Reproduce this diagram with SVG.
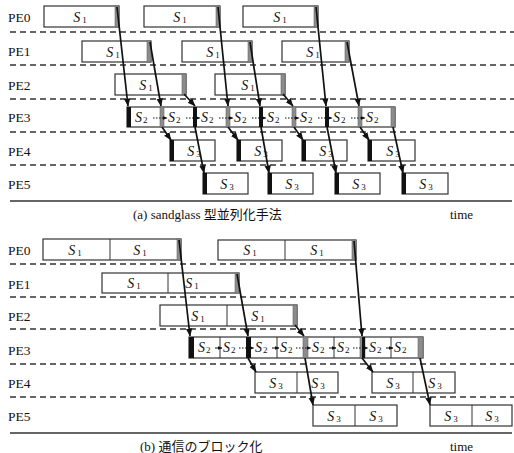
<svg xmlns="http://www.w3.org/2000/svg" width="514" height="453" viewBox="0 0 514 453">
<defs>
<marker id="ah" markerWidth="8" markerHeight="8" refX="7.5" refY="4" orient="auto" markerUnits="userSpaceOnUse"><path d="M0,0.8 L8,4 L0,7.2 z" fill="#111"/></marker>
<marker id="sh" markerWidth="5" markerHeight="5" refX="4.5" refY="2.5" orient="auto" markerUnits="userSpaceOnUse"><path d="M0,0.5 L5,2.5 L0,4.5 z" fill="#111"/></marker>
</defs>
<style>
text{font-family:"Liberation Serif","DejaVu Serif","Noto Sans CJK JP",serif}
.lbl{font-size:13.5px;fill:#111}
.s{font-style:italic;font-size:14px;fill:#111}
.sb{font-size:9px;font-style:normal}
.box{fill:#fff;stroke:#333;stroke-width:1.2}
.gs{fill:#8c8c8c;stroke:#666;stroke-width:0.6}
.bk{fill:#111}
.dash{stroke:#333;stroke-width:1.4;stroke-dasharray:6,4;fill:none}
.solid{stroke:#333;stroke-width:1.6}
.div{stroke:#333;stroke-width:1}
.arr{stroke:#111;stroke-width:1.7;fill:none;marker-end:url(#ah)}
.dar{stroke:#111;stroke-width:1.1;stroke-dasharray:1.5,1.5;fill:none;marker-end:url(#sh)}
.sar{stroke:#111;stroke-width:1;fill:none;marker-end:url(#sh)}
.cap{font-size:13px;fill:#111}
</style>

<!-- ===== (a) ===== -->
<g id="grid-a">
<line class="dash" x1="10" y1="32" x2="514" y2="32"/>
<line class="dash" x1="10" y1="65" x2="514" y2="65"/>
<line class="dash" x1="10" y1="99" x2="514" y2="99"/>
<line class="dash" x1="10" y1="132" x2="514" y2="132"/>
<line class="dash" x1="10" y1="165" x2="514" y2="165"/>
<line class="solid" x1="10" y1="201" x2="512" y2="201"/>
</g>
<g id="labels-a">
<text class="lbl" x="8" y="22">PE0</text>
<text class="lbl" x="8" y="56">PE1</text>
<text class="lbl" x="8" y="90">PE2</text>
<text class="lbl" x="8" y="122">PE3</text>
<text class="lbl" x="8" y="156">PE4</text>
<text class="lbl" x="8" y="189">PE5</text>
</g>

<g id="a-pe0-1"><rect class="box" x="44" y="6" width="75" height="21"/><rect class="gs" x="115" y="6" width="4" height="21"/><text class="s" x="80" y="22" text-anchor="middle">S<tspan class="sb" dx="2" dy="1">1</tspan></text></g>
<g id="a-pe0-2"><rect class="box" x="144" y="6" width="76" height="21"/><rect class="gs" x="216" y="6" width="4" height="21"/><text class="s" x="180" y="22" text-anchor="middle">S<tspan class="sb" dx="2" dy="1">1</tspan></text></g>
<g id="a-pe0-3"><rect class="box" x="243" y="6" width="75" height="21"/><rect class="gs" x="314" y="6" width="4" height="21"/><text class="s" x="280" y="22" text-anchor="middle">S<tspan class="sb" dx="2" dy="1">1</tspan></text></g>

<g id="a-pe1-1"><rect class="box" x="82" y="41" width="69" height="21"/><rect class="gs" x="147" y="41" width="4" height="21"/><text class="s" x="113" y="57" text-anchor="middle">S<tspan class="sb" dx="2" dy="1">1</tspan></text></g>
<g id="a-pe1-2"><rect class="box" x="182" y="41" width="70" height="21"/><rect class="gs" x="248" y="41" width="4" height="21"/><text class="s" x="213" y="57" text-anchor="middle">S<tspan class="sb" dx="2" dy="1">1</tspan></text></g>
<g id="a-pe1-3"><rect class="box" x="282" y="41" width="67" height="21"/><rect class="gs" x="345" y="41" width="4" height="21"/><text class="s" x="313" y="57" text-anchor="middle">S<tspan class="sb" dx="2" dy="1">1</tspan></text></g>

<g id="a-pe2-1"><rect class="box" x="115" y="74" width="71" height="21"/><rect class="gs" x="182" y="74" width="4" height="21"/><text class="s" x="146" y="90" text-anchor="middle">S<tspan class="sb" dx="2" dy="1">1</tspan></text></g>
<g id="a-pe2-2"><rect class="box" x="215" y="74" width="70" height="21"/><rect class="gs" x="281" y="74" width="4" height="21"/><text class="s" x="248" y="90" text-anchor="middle">S<tspan class="sb" dx="2" dy="1">1</tspan></text></g>

<g id="a-pe3">
<rect class="box" x="127" y="107" width="268" height="20"/>
<rect class="bk" x="127" y="107" width="4" height="20"/>
<rect class="gs" x="160" y="107" width="4" height="20"/>
<rect class="bk" x="193" y="107" width="4" height="20"/>
<rect class="gs" x="226" y="107" width="4" height="20"/>
<rect class="bk" x="259" y="107" width="4" height="20"/>
<rect class="gs" x="292" y="107" width="4" height="20"/>
<rect class="bk" x="325" y="107" width="4" height="20"/>
<rect class="gs" x="358" y="107" width="4" height="20"/>
<rect class="gs" x="391" y="107" width="4" height="20"/>
<text class="s" x="135" y="122">S<tspan class="sb" dx="1" dy="1">2</tspan></text>
<text class="s" x="168" y="122">S<tspan class="sb" dx="1" dy="1">2</tspan></text>
<text class="s" x="201" y="122">S<tspan class="sb" dx="1" dy="1">2</tspan></text>
<text class="s" x="234" y="122">S<tspan class="sb" dx="1" dy="1">2</tspan></text>
<text class="s" x="267" y="122">S<tspan class="sb" dx="1" dy="1">2</tspan></text>
<text class="s" x="300" y="122">S<tspan class="sb" dx="1" dy="1">2</tspan></text>
<text class="s" x="333" y="122">S<tspan class="sb" dx="1" dy="1">2</tspan></text>
<text class="s" x="366" y="122">S<tspan class="sb" dx="1" dy="1">2</tspan></text>
<line class="dar" x1="153" y1="118" x2="167" y2="118"/>
<line class="dar" x1="186" y1="118" x2="200" y2="118"/>
<line class="dar" x1="219" y1="118" x2="233" y2="118"/>
<line class="dar" x1="252" y1="118" x2="266" y2="118"/>
<line class="dar" x1="285" y1="118" x2="299" y2="118"/>
<line class="dar" x1="318" y1="118" x2="332" y2="118"/>
<line class="dar" x1="351" y1="118" x2="365" y2="118"/>
</g>

<g id="a-pe4-1"><rect class="box" x="170" y="140" width="45" height="21"/><rect class="bk" x="170" y="140" width="4" height="21"/><text class="s" x="194" y="156" text-anchor="middle">S<tspan class="sb" dx="2" dy="1">3</tspan></text></g>
<g id="a-pe4-2"><rect class="box" x="237" y="140" width="45" height="21"/><rect class="bk" x="237" y="140" width="4" height="21"/><text class="s" x="261" y="156" text-anchor="middle">S<tspan class="sb" dx="2" dy="1">3</tspan></text></g>
<g id="a-pe4-3"><rect class="box" x="302" y="140" width="45" height="21"/><rect class="bk" x="302" y="140" width="4" height="21"/><text class="s" x="326" y="156" text-anchor="middle">S<tspan class="sb" dx="2" dy="1">3</tspan></text></g>
<g id="a-pe4-4"><rect class="box" x="368" y="140" width="47" height="21"/><rect class="bk" x="368" y="140" width="4" height="21"/><text class="s" x="393" y="156" text-anchor="middle">S<tspan class="sb" dx="2" dy="1">3</tspan></text></g>

<g id="a-pe5-1"><rect class="box" x="203" y="173" width="45" height="21"/><rect class="bk" x="203" y="173" width="4" height="21"/><text class="s" x="227" y="189" text-anchor="middle">S<tspan class="sb" dx="2" dy="1">3</tspan></text></g>
<g id="a-pe5-2"><rect class="box" x="268" y="173" width="45" height="21"/><rect class="bk" x="268" y="173" width="4" height="21"/><text class="s" x="292" y="189" text-anchor="middle">S<tspan class="sb" dx="2" dy="1">3</tspan></text></g>
<g id="a-pe5-3"><rect class="box" x="335" y="173" width="45" height="21"/><rect class="bk" x="335" y="173" width="4" height="21"/><text class="s" x="359" y="189" text-anchor="middle">S<tspan class="sb" dx="2" dy="1">3</tspan></text></g>
<g id="a-pe5-4"><rect class="box" x="402" y="173" width="46" height="21"/><rect class="bk" x="402" y="173" width="4" height="21"/><text class="s" x="426" y="189" text-anchor="middle">S<tspan class="sb" dx="2" dy="1">3</tspan></text></g>

<g id="connectors-a">
<line class="arr" x1="117" y1="7" x2="128" y2="106"/>
<line class="arr" x1="150" y1="42" x2="161" y2="106"/>
<line class="arr" x1="184" y1="94" x2="195" y2="106"/>
<line class="arr" x1="218" y1="7" x2="228" y2="106"/>
<line class="arr" x1="250" y1="42" x2="260" y2="106"/>
<line class="arr" x1="283" y1="94" x2="293" y2="106"/>
<line class="arr" x1="316" y1="7" x2="326" y2="106"/>
<line class="arr" x1="347" y1="42" x2="359" y2="106"/>
<line class="arr" x1="162" y1="127" x2="171" y2="140"/>
<line class="arr" x1="195" y1="127" x2="204" y2="173"/>
<line class="arr" x1="228" y1="127" x2="238" y2="140"/>
<line class="arr" x1="261" y1="127" x2="269" y2="173"/>
<line class="arr" x1="294" y1="127" x2="303" y2="140"/>
<line class="arr" x1="327" y1="127" x2="336" y2="173"/>
<line class="arr" x1="360" y1="127" x2="369" y2="140"/>
<line class="arr" x1="393" y1="127" x2="403" y2="173"/>
</g>
<text class="cap" x="133" y="219">(a)  sandglass 型並列化手法</text>
<text class="cap" x="450" y="219">time</text>

<!-- ===== (b) ===== -->
<g id="grid-b">
<line class="dash" x1="10" y1="264" x2="514" y2="264"/>
<line class="dash" x1="10" y1="297" x2="514" y2="297"/>
<line class="dash" x1="10" y1="329" x2="514" y2="329"/>
<line class="dash" x1="10" y1="364" x2="514" y2="364"/>
<line class="dash" x1="10" y1="397" x2="514" y2="397"/>
<line class="solid" x1="10" y1="433" x2="512" y2="433"/>
</g>
<g id="labels-b">
<text class="lbl" x="8" y="255">PE0</text>
<text class="lbl" x="8" y="289">PE1</text>
<text class="lbl" x="8" y="321">PE2</text>
<text class="lbl" x="8" y="355">PE3</text>
<text class="lbl" x="8" y="388">PE4</text>
<text class="lbl" x="8" y="421">PE5</text>
</g>

<g id="b-pe0-1"><rect class="box" x="43" y="239" width="138" height="21"/><line class="div" x1="110" y1="239" x2="110" y2="260"/><rect class="gs" x="177" y="239" width="4" height="21"/><text class="s" x="75" y="255" text-anchor="middle">S<tspan class="sb" dx="2" dy="1">1</tspan></text><text class="s" x="140" y="255" text-anchor="middle">S<tspan class="sb" dx="2" dy="1">1</tspan></text></g>
<g id="b-pe0-2"><rect class="box" x="218" y="240" width="138" height="20"/><line class="div" x1="285" y1="240" x2="285" y2="260"/><rect class="gs" x="352" y="240" width="4" height="20"/><text class="s" x="250" y="255" text-anchor="middle">S<tspan class="sb" dx="2" dy="1">1</tspan></text><text class="s" x="317" y="255" text-anchor="middle">S<tspan class="sb" dx="2" dy="1">1</tspan></text></g>
<g id="b-pe1-1"><rect class="box" x="102" y="273" width="137" height="20"/><line class="div" x1="168" y1="273" x2="168" y2="293"/><rect class="gs" x="235" y="273" width="4" height="20"/><text class="s" x="134" y="288" text-anchor="middle">S<tspan class="sb" dx="2" dy="1">1</tspan></text><text class="s" x="192" y="288" text-anchor="middle">S<tspan class="sb" dx="2" dy="1">1</tspan></text></g>
<g id="b-pe2-1"><rect class="box" x="160" y="305" width="137" height="21"/><line class="div" x1="227" y1="305" x2="227" y2="326"/><rect class="gs" x="293" y="305" width="4" height="21"/><text class="s" x="198" y="321" text-anchor="middle">S<tspan class="sb" dx="2" dy="1">1</tspan></text><text class="s" x="258" y="321" text-anchor="middle">S<tspan class="sb" dx="2" dy="1">1</tspan></text></g>

<g id="b-pe3">
<rect class="box" x="189" y="337" width="234" height="21"/>
<rect class="bk" x="189" y="337" width="5" height="21"/>
<rect class="bk" x="246" y="337" width="5" height="21"/>
<rect class="gs" x="303" y="337" width="5" height="21"/>
<rect class="gs" x="360" y="337" width="5" height="21"/>
<rect class="bk" x="362" y="337" width="3" height="21"/>
<rect class="gs" x="418" y="337" width="5" height="21"/>
<line class="div" x1="220" y1="337" x2="220" y2="358"/>
<line class="div" x1="277" y1="337" x2="277" y2="358"/>
<line class="div" x1="334" y1="337" x2="334" y2="358"/>
<line class="div" x1="391" y1="337" x2="391" y2="358"/>
<text class="s" x="198" y="352">S<tspan class="sb" dx="1" dy="1">2</tspan></text>
<text class="s" x="223" y="352">S<tspan class="sb" dx="1" dy="1">2</tspan></text>
<text class="s" x="255" y="352">S<tspan class="sb" dx="1" dy="1">2</tspan></text>
<text class="s" x="280" y="352">S<tspan class="sb" dx="1" dy="1">2</tspan></text>
<text class="s" x="312" y="352">S<tspan class="sb" dx="1" dy="1">2</tspan></text>
<text class="s" x="337" y="352">S<tspan class="sb" dx="1" dy="1">2</tspan></text>
<text class="s" x="369" y="352">S<tspan class="sb" dx="1" dy="1">2</tspan></text>
<text class="s" x="394" y="352">S<tspan class="sb" dx="1" dy="1">2</tspan></text>
<line class="sar" x1="215" y1="348" x2="222" y2="348"/>
<line class="sar" x1="272" y1="348" x2="279" y2="348"/>
<line class="sar" x1="329" y1="348" x2="336" y2="348"/>
<line class="sar" x1="386" y1="348" x2="393" y2="348"/>
<line class="dar" x1="239" y1="348" x2="254" y2="348"/>
<line class="dar" x1="296" y1="348" x2="311" y2="348"/>
<line class="dar" x1="353" y1="348" x2="368" y2="348"/>
</g>

<g id="b-pe4-1"><rect class="box" x="255" y="372" width="83" height="21"/><line class="div" x1="297" y1="372" x2="297" y2="393"/><text class="s" x="276" y="388" text-anchor="middle">S<tspan class="sb" dx="2" dy="1">3</tspan></text><text class="s" x="318" y="388" text-anchor="middle">S<tspan class="sb" dx="2" dy="1">3</tspan></text></g>
<g id="b-pe4-2"><rect class="box" x="372" y="372" width="83" height="21"/><line class="div" x1="413" y1="372" x2="413" y2="393"/><text class="s" x="393" y="388" text-anchor="middle">S<tspan class="sb" dx="2" dy="1">3</tspan></text><text class="s" x="435" y="388" text-anchor="middle">S<tspan class="sb" dx="2" dy="1">3</tspan></text></g>
<g id="b-pe5-1"><rect class="box" x="313" y="405" width="84" height="21"/><line class="div" x1="355" y1="405" x2="355" y2="426"/><text class="s" x="334" y="421" text-anchor="middle">S<tspan class="sb" dx="2" dy="1">3</tspan></text><text class="s" x="376" y="421" text-anchor="middle">S<tspan class="sb" dx="2" dy="1">3</tspan></text></g>
<g id="b-pe5-2"><rect class="box" x="430" y="405" width="82" height="21"/><line class="div" x1="472" y1="405" x2="472" y2="426"/><text class="s" x="451" y="421" text-anchor="middle">S<tspan class="sb" dx="2" dy="1">3</tspan></text><text class="s" x="492" y="421" text-anchor="middle">S<tspan class="sb" dx="2" dy="1">3</tspan></text></g>

<g id="connectors-b">
<line class="arr" x1="179" y1="240" x2="190" y2="336"/>
<line class="arr" x1="237" y1="274" x2="248" y2="336"/>
<line class="arr" x1="295" y1="325" x2="304" y2="336"/>
<line class="arr" x1="354" y1="241" x2="362" y2="336"/>
<line class="arr" x1="248" y1="358" x2="256" y2="372"/>
<line class="arr" x1="305" y1="358" x2="313" y2="405"/>
<line class="arr" x1="362" y1="358" x2="373" y2="372"/>
<line class="arr" x1="420" y1="358" x2="430" y2="405"/>
</g>
<text class="cap" x="140" y="451">(b)  通信のブロック化</text>
<text class="cap" x="450" y="451">time</text>
</svg>
